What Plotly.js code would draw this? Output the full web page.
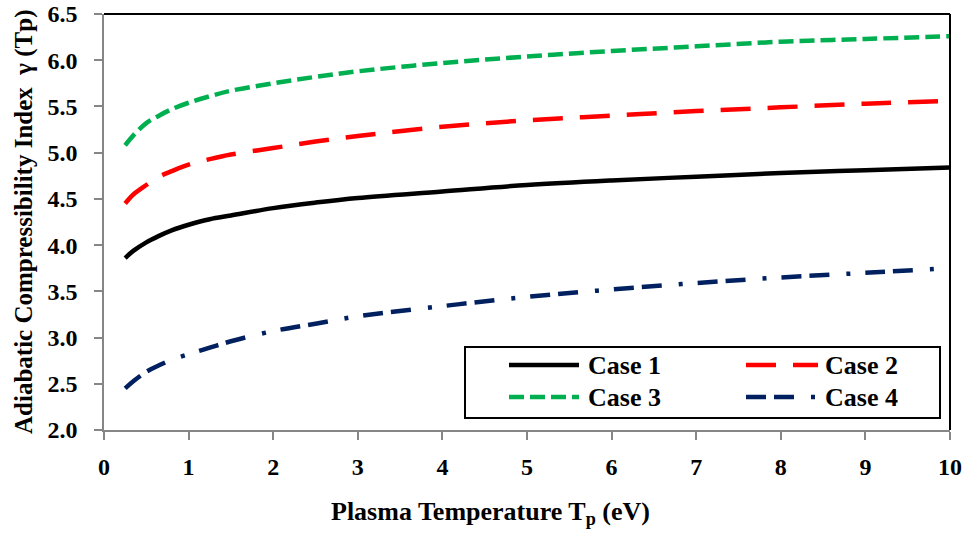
<!DOCTYPE html>
<html>
<head>
<meta charset="utf-8">
<script src="https://cdn.plot.ly/plotly-3.0.1.min.js"></script>
<style>
  html, body { margin: 0; padding: 0; background: #fff; }
  #chart { width: 965px; height: 535px; }
  #chart svg text { font-family: "Liberation Serif", "Times New Roman", Times, serif !important; }
</style>
</head>
<body>
<div id="chart"></div>
<script>
// Plasma temperature Tp (eV)
const temperature = [0.25, 0.35, 0.5, 0.65, 0.8, 1, 1.25, 1.5, 2, 2.5, 3, 4, 5, 6, 7, 8, 9, 10];

// Adiabatic compressibility index for each case
const case1 = [3.86, 3.94, 4.03, 4.10, 4.16, 4.22, 4.28, 4.32, 4.40, 4.46, 4.51, 4.58, 4.65, 4.70, 4.74, 4.78, 4.81, 4.84];
const case2 = [4.45, 4.55, 4.65, 4.74, 4.80, 4.87, 4.93, 4.98, 5.05, 5.12, 5.18, 5.28, 5.35, 5.40, 5.45, 5.49, 5.53, 5.56];
const case3 = [5.08, 5.19, 5.32, 5.40, 5.47, 5.54, 5.61, 5.67, 5.75, 5.82, 5.88, 5.97, 6.04, 6.10, 6.15, 6.20, 6.23, 6.26];
const case4 = [2.45, 2.53, 2.63, 2.70, 2.76, 2.82, 2.89, 2.96, 3.07, 3.15, 3.23, 3.34, 3.44, 3.52, 3.59, 3.65, 3.70, 3.75];

const seriesNames = ['Case 1', 'Case 2', 'Case 3', 'Case 4'];
const seriesValues = [case1, case2, case3, case4];
const seriesColors = ['#000000', '#FF0000', '#00B050', '#002060'];
const seriesDashes = ['solid', '30px,17px', '15px,6px', '20px,8px,20px,17px,4px,15px'];

const xTickVals = [0, 1, 2, 3, 4, 5, 6, 7, 8, 9, 10];
const yTickVals = [2.0, 2.5, 3.0, 3.5, 4.0, 4.5, 5.0, 5.5, 6.0, 6.5];

// page geometry
const W = 965, H = 535;
const M = { l: 104, r: 15, t: 14, b: 105 };
const PW = W - M.l - M.r, PH = H - M.t - M.b;
const px = x => (x - M.l) / PW;           // pixel column -> paper x
const py = y => (H - M.b - y) / PH;        // pixel row -> paper y

const FONT = '"Liberation Serif", "Times New Roman", Times, serif';
const axisGray = '#868686';

const traces = seriesValues.map((vals, i) => ({
  type: 'scatter',
  mode: 'lines',
  name: seriesNames[i],
  x: temperature,
  y: vals,
  line: { color: seriesColors[i], width: 4.5, dash: seriesDashes[i], shape: 'spline', smoothing: 1 },
  showlegend: false,
  hoverinfo: 'skip'
}));

// frame: black top and right edges
const shapes = [
  { type: 'line', xref: 'paper', yref: 'paper', x0: 0, x1: 1, y0: 1, y1: 1, line: { color: '#000', width: 2 }, layer: 'above' },
  { type: 'line', xref: 'paper', yref: 'paper', x0: 1, x1: 1, y0: 0, y1: 1, line: { color: '#000', width: 2 }, layer: 'above' }
];

// boxed two-column key
shapes.push({
  type: 'rect', xref: 'paper', yref: 'paper',
  x0: px(465), x1: px(940), y0: py(418), y1: py(347),
  line: { color: '#000', width: 2 }, fillcolor: '#fff', layer: 'above'
});

const keyCols = [{ s0: 509, s1: 579, t: 586 }, { s0: 746, s1: 818, t: 823 }];
const keyRows = [365, 397];
const annotations = [];
seriesNames.forEach((name, i) => {
  const col = keyCols[i % 2], row = keyRows[Math.floor(i / 2)];
  shapes.push({
    type: 'line', xref: 'paper', yref: 'paper',
    x0: px(col.s0), x1: px(col.s1), y0: py(row), y1: py(row),
    line: { color: seriesColors[i], width: 4.5, dash: seriesDashes[i] }, layer: 'above'
  });
  annotations.push({
    xref: 'paper', yref: 'paper', x: px(col.t), y: py(row),
    xanchor: 'left', yanchor: 'middle', showarrow: false,
    text: name, font: { family: FONT, size: 26, color: '#000', weight: 'bold' }
  });
});

// axis titles
annotations.push({
  xref: 'paper', yref: 'paper', x: px(490), y: py(513),
  xanchor: 'center', yanchor: 'middle', showarrow: false,
  text: 'Plasma Temperature T<sub>p</sub> (eV)',
  font: { family: FONT, size: 26, color: '#000', weight: 'bold' }
});
annotations.push({
  xref: 'paper', yref: 'paper', x: px(24), y: 0.5,
  xanchor: 'center', yanchor: 'middle', showarrow: false, textangle: -90,
  text: 'Adiabatic Compressibility Index\u00a0 γ (Tp)',
  font: { family: FONT, size: 25, color: '#000', weight: 'bold' }
});

const tickFont = { family: FONT, size: 24, color: '#000', weight: 'bold' };

const layout = {
  width: W, height: H,
  margin: M,
  paper_bgcolor: '#fff', plot_bgcolor: '#fff',
  showlegend: false,
  font: { family: FONT, color: '#000' },
  xaxis: {
    range: [0, 10], tickvals: xTickVals, ticktext: xTickVals.map(String),
    showgrid: false, zeroline: false,
    showline: true, linecolor: axisGray, linewidth: 1.5,
    ticks: 'outside', ticklen: 8, tickwidth: 1.5, tickcolor: axisGray,
    ticklabelstandoff: 6,
    tickfont: tickFont, fixedrange: true
  },
  yaxis: {
    range: [2, 6.5], tickvals: yTickVals, ticktext: yTickVals.map(v => v.toFixed(1)),
    showgrid: false, zeroline: false,
    showline: true, linecolor: axisGray, linewidth: 1.5,
    ticks: 'outside', ticklen: 8, tickwidth: 1.5, tickcolor: axisGray,
    ticklabelstandoff: 12,
    tickfont: tickFont, fixedrange: true
  },
  shapes: shapes,
  annotations: annotations
};

Plotly.newPlot('chart', traces, layout, { displayModeBar: false });
</script>
</body>
</html>
